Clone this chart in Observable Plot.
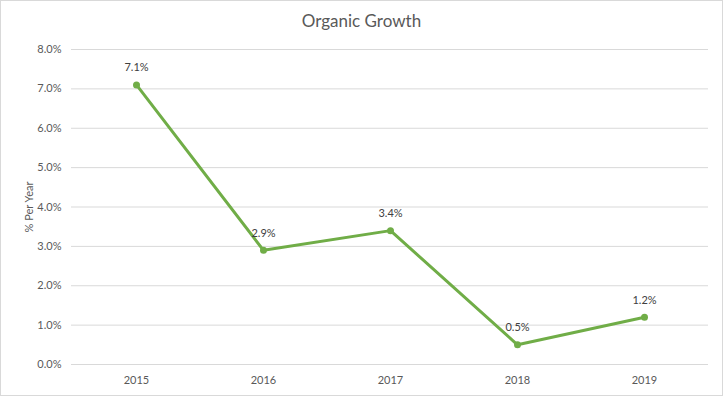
<!DOCTYPE html>
<html>
<head>
<meta charset="utf-8">
<script src="https://cdn.jsdelivr.net/npm/d3@7"></script>
<script src="https://cdn.jsdelivr.net/npm/@observablehq/plot@0.6"></script>
<style>
  html, body { margin: 0; padding: 0; background: #fff; }
  #wrap { box-sizing: border-box; width: 723px; height: 396px; border: 1px solid #d9d9d9; overflow: hidden; font-family: Lato, "Open Sans", sans-serif; }
  #title { height: 39px; line-height: 40px; text-align: center; font-size: 17px; color: #595959; }
</style>
</head>
<body>
<div id="wrap">
  <div id="title">Organic Growth</div>
  <div id="chart"></div>
</div>
<script>
const years = ["2015", "2016", "2017", "2018", "2019"];
const growth = [7.1, 2.9, 3.4, 0.5, 1.2];
const yTicks = [0, 1, 2, 3, 4, 5, 6, 7, 8];

const data = years.map((y, i) => ({year: y, value: growth[i]}));
const green = "#70ad47";

const chart = Plot.plot({
  width: 721,
  height: 355,
  marginLeft: 70,
  marginRight: 14,
  marginTop: 9,
  marginBottom: 31,
  style: {fontFamily: "Lato, 'Open Sans', sans-serif", fontSize: "11px", color: "#595959", background: "#fff"},
  x: {type: "point", domain: years, padding: 0.5, label: null},
  y: {domain: [0, 8], ticks: yTicks, label: null},
  marks: [
    Plot.gridY(yTicks, {stroke: "#d9d9d9", strokeOpacity: 1, strokeWidth: 1}),
    Plot.axisY({ticks: yTicks, tickSize: 0, tickPadding: 10, tickFormat: d => d.toFixed(1) + "%", label: "% Per Year", labelAnchor: "center", labelArrow: "none", labelOffset: 46, fill: "#595959"}),
    Plot.axisX({tickSize: 0, tickPadding: 12, label: null, fill: "#595959"}),
    Plot.line(data, {x: "year", y: "value", stroke: green, strokeWidth: 3}),
    Plot.dot(data, {x: "year", y: "value", fill: green, r: 3.5}),
    Plot.text(data, {x: "year", y: "value", text: d => d.value.toFixed(1) + "%", dy: -17, fill: "#404040", fontSize: 11})
  ]
});
document.getElementById("chart").appendChild(chart);
</script>
</body>
</html>
